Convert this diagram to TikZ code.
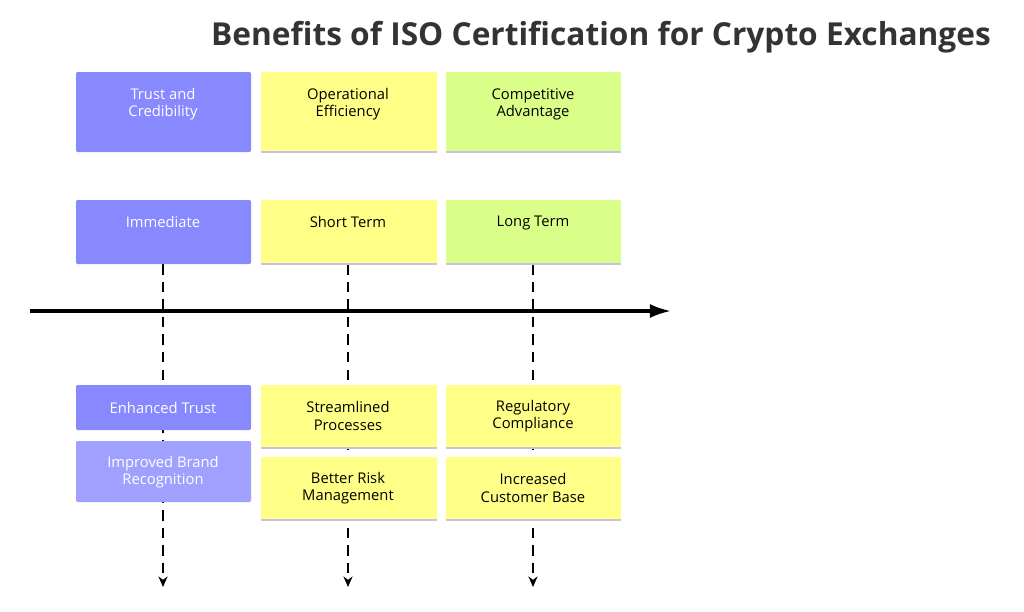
\documentclass[tikz,border=0pt]{standalone}
\usepackage{fontspec}
\setmainfont{Open Sans}
\usetikzlibrary{arrows.meta}
\definecolor{purp}{HTML}{8888FF}
\definecolor{lpurp}{HTML}{A0A0FF}
\definecolor{yel}{HTML}{FFFF88}
\definecolor{grn}{HTML}{D9FF88}
\definecolor{edgeline}{HTML}{C8C0E0}
\begin{document}
\begin{tikzpicture}[x=0.01cm,y=-0.01cm,
  box/.style={inner sep=0pt,rounded corners=0.4pt},
  txt/.style={font=\fontsize{4.2}{4.9}\selectfont,align=center,anchor=north},
  ctxt/.style={font=\fontsize{4.2}{4.9}\selectfont,align=center},
  dash line/.style={densely dashed,line width=0.45pt,-{Stealth[length=3pt,width=2.6pt]}}]
\useasboundingbox (0,0) rectangle (1024,612);
\node[font=\bfseries\fontsize{9}{10}\selectfont,text=black!80] (title) at (601,37) {Benefits of ISO Certification for Crypto Exchanges};
% dashed guides
\coordinate (d1) at (163,587);
\coordinate (d2) at (348,587);
\coordinate (d3) at (533,587);
\coordinate (u1) at (163,264);
\coordinate (u2) at (348,264);
\coordinate (u3) at (533,264);
\draw[dash line] (u1) -- (d1);
\draw[dash line] (u2) -- (d2);
\draw[dash line] (u3) -- (d3);
% axis
\coordinate (a0) at (30,311);
\coordinate (a1) at (671,311);
\draw[line width=0.9pt,-{Latex[length=6pt,width=4pt]}] (a0) -- (a1);
% header row
\fill[purp,box] (76,72) rectangle (251,152);
\fill[yel,box] (261,72) rectangle (437,152);
\fill[grn,box] (446,72) rectangle (621,152);
\draw[edgeline,line width=0.6pt] (261,152) -- (437,152) (446,152) -- (621,152);
\node[txt,text=white] (h1) at (163,76) {Trust and\\Credibility};
\node[txt] (h2) at (348,76) {Operational\\Efficiency};
\node[txt] (h3) at (533,76) {Competitive\\Advantage};
% period row
\fill[purp,box] (76,200) rectangle (251,264);
\fill[yel,box] (261,200) rectangle (437,264);
\fill[grn,box] (446,200) rectangle (621,264);
\draw[edgeline,line width=0.6pt] (261,264) -- (437,264) (446,264) -- (621,264);
\node[txt,text=white] (p1) at (163,204) {Immediate};
\node[txt] (p2) at (348,204) {Short Term};
\node[txt] (p3) at (533,204) {Long Term};
% outcome boxes
\fill[purp,box] (76,385) rectangle (251,430);
\fill[lpurp,box] (76,441) rectangle (251,502);
\fill[yel,box] (261,385) rectangle (437,448);
\fill[yel,box] (261,457) rectangle (437,520);
\fill[yel,box] (446,385) rectangle (621,448);
\fill[yel,box] (446,457) rectangle (621,520);
\draw[edgeline,line width=0.6pt] (261,448) -- (437,448) (446,448) -- (621,448)
  (261,520) -- (437,520) (446,520) -- (621,520);
\node[ctxt,text=white] (o1) at (163,408) {Enhanced Trust};
\node[ctxt,text=white] (o2) at (163,472) {Improved Brand\\Recognition};
\node[ctxt] (o3) at (348,416) {Streamlined\\Processes};
\node[ctxt] (o4) at (348,488) {Better Risk\\Management};
\node[ctxt] (o5) at (533,416) {Regulatory\\Compliance};
\node[ctxt] (o6) at (533,488) {Increased\\Customer Base};
\end{tikzpicture}
\end{document}
